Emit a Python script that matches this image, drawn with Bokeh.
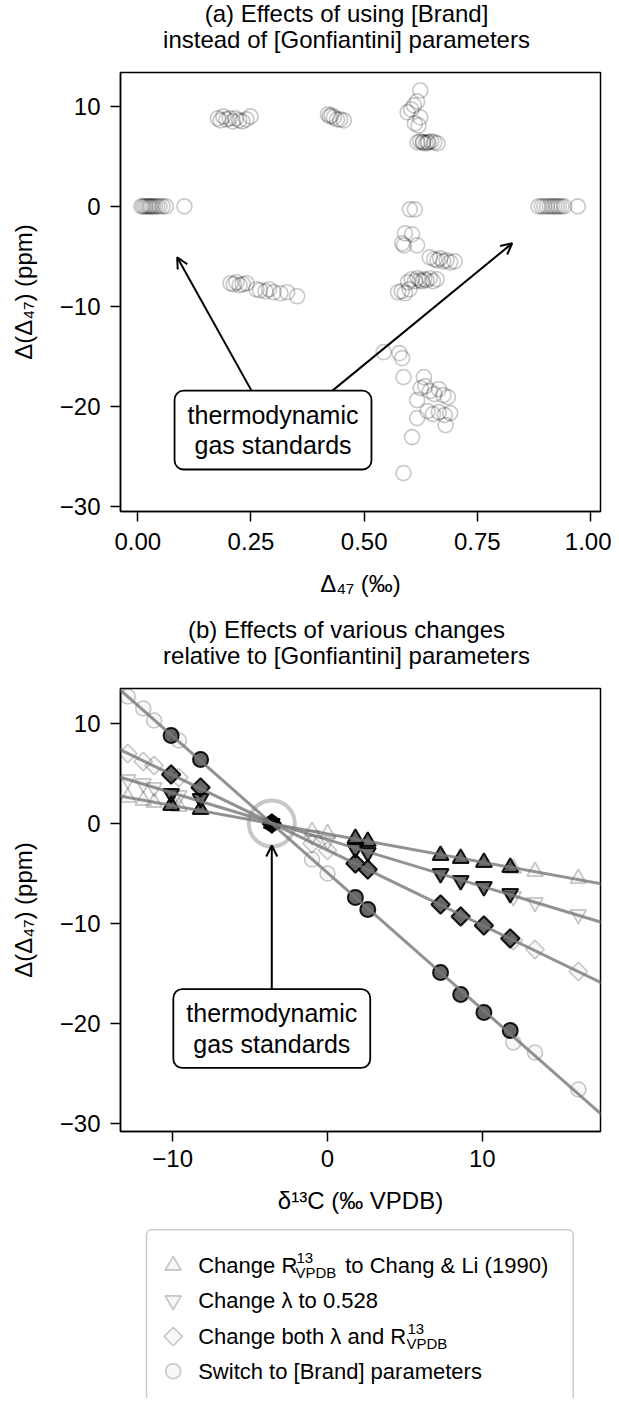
import numpy as np
from bokeh.plotting import figure
from bokeh.models import Range1d, FixedTicker, Label, Arrow, OpenHead, Slope
from bokeh.layouts import column
from bokeh.embed import file_html
from bokeh.resources import INLINE
from bokeh.core.properties import value

FONT = "Liberation Sans"

# ---------------- data: panel (a) ----------------
gas_lo_D47 = [0.008, 0.012, 0.016, 0.020, 0.024, 0.027, 0.030, 0.034, 0.038, 0.043, 0.048, 0.055, 0.062, 0.103]
gas_lo_dD47 = [0.0, 0.0, 0.0, 0.0, 0.0, 0.0, 0.0, 0.0, 0.0, 0.0, 0.0, 0.0, 0.0, 0.0]
gas_hi_D47 = [0.885, 0.892, 0.898, 0.904, 0.910, 0.915, 0.920, 0.925, 0.930, 0.936, 0.942, 0.972]
gas_hi_dD47 = [0.0, 0.0, 0.0, 0.0, 0.0, 0.0, 0.0, 0.0, 0.0, 0.0, 0.0, 0.0]
eth2_D47 = [0.177, 0.183, 0.189, 0.196, 0.203, 0.210, 0.216, 0.224, 0.231, 0.240, 0.249]
eth2_dD47 = [8.8, 8.6, 9.0, 8.7, 8.8, 8.5, 8.8, 8.6, 8.5, 8.7, 9.0]
eth4_D47 = [0.420, 0.424, 0.428, 0.433, 0.440, 0.447, 0.455]
eth4_dD47 = [9.2, 9.0, 9.1, 8.9, 8.7, 8.7, 8.6]
sA_D47 = [0.624, 0.617, 0.610, 0.596, 0.604, 0.624, 0.620, 0.612,
          0.618, 0.624, 0.630, 0.636, 0.642, 0.648, 0.655, 0.662, 0.630, 0.640]
sA_dD47 = [11.6, 10.5, 10.1, 9.4, 9.7, 8.9, 8.1, 8.3,
           6.4, 6.5, 6.4, 6.3, 6.4, 6.5, 6.4, 6.3, 6.4, 6.4]
eth1_D47 = [0.205, 0.212, 0.218, 0.225, 0.232, 0.240, 0.262, 0.270, 0.282, 0.290, 0.300, 0.315, 0.330, 0.352]
eth1_dD47 = [-7.7, -7.8, -7.6, -7.9, -7.8, -7.7, -8.3, -8.4, -8.5, -8.3, -8.6, -8.7, -8.6, -9.0]
eth3_D47 = [0.597, 0.605, 0.612, 0.618, 0.623, 0.628, 0.633, 0.638, 0.645, 0.652, 0.660, 0.575, 0.583, 0.590, 0.600]
eth3_dD47 = [-7.6, -7.3, -7.5, -7.2, -7.4, -7.5, -7.3, -7.4, -7.2, -7.5, -7.3, -8.6, -8.5, -8.7, -8.3]
sB_D47 = [0.601, 0.612, 0.590, 0.606, 0.584, 0.588, 0.617,
          0.645, 0.655, 0.662, 0.668, 0.675, 0.682, 0.690, 0.700]
sB_dD47 = [-0.3, -0.3, -2.7, -2.8, -3.7, -3.9, -3.9,
           -5.1, -5.3, -5.4, -5.2, -5.5, -5.4, -5.6, -5.5]
sC_D47 = [0.543, 0.578, 0.584, 0.587, 0.632, 0.625, 0.635, 0.645, 0.655, 0.665, 0.675, 0.685,
          0.617, 0.640, 0.652, 0.665, 0.678, 0.690, 0.680, 0.617, 0.606, 0.587]
sC_dD47 = [-14.6, -14.7, -15.2, -17.1, -17.1, -18.2, -18.0, -18.5, -18.8, -18.3, -18.9, -19.1,
           -19.4, -20.5, -20.8, -20.6, -20.9, -20.7, -21.9, -21.2, -23.1, -26.7]

# ---------------- data: panel (b) ----------------
d13C_dark = [-10.1, -8.2, -3.6, 1.8, 2.6, 7.3, 8.6, 10.1, 11.8]
d13C_light = [-12.9, -11.9, -11.2, -9.6, -1.0, 0.0, 12.0, 13.4, 16.2]
gas_d13C = [-3.6]
gas_dD47 = [0.0]

brand_dark = [8.8, 6.4, 0.0, -7.4, -8.6, -14.9, -17.1, -18.9, -20.7]
brand_light = [12.7, 11.5, 10.3, 8.3, -3.6, -5.0, -21.9, -22.9, -26.6]
r13_dark = [1.8, 1.4, 0.0, -1.5, -1.8, -3.2, -3.5, -3.9, -4.4]
r13_light = [2.6, 2.3, 2.1, 1.7, -0.8, -1.0, -4.5, -4.8, -5.5]
lam_dark = [3.0, 2.5, 0.0, -2.5, -2.9, -5.0, -5.7, -6.3, -7.0]
lam_light = [4.4, 4.0, 3.6, 2.8, -1.2, -1.7, -7.3, -7.9, -9.1]
both_dark = [4.9, 3.6, 0.0, -4.0, -4.6, -8.1, -9.3, -10.2, -11.5]
both_light = [7.0, 6.2, 5.8, 4.6, -2.0, -2.7, -11.7, -12.6, -14.8]

title_a = ["(a) Effects of using [Brand]", "instead of [Gonfiantini] parameters"]
title_b = ["(b) Effects of various changes", "relative to [Gonfiantini] parameters"]
legend_labels = ["Change R", "Change \u03bb to 0.528", "Change both \u03bb and R", "Switch to [Brand] parameters"]

xticks_a = [0, 0.25, 0.5, 0.75, 1.0]
xlabels_a = ["0.00", "0.25", "0.50", "0.75", "1.00"]
yticks = [-30, -20, -10, 0, 10]
ylabels = ["\u221230", "\u221220", "\u221210", "0", "10"]
xticks_b = [-10, 0, 10]
xlabels_b = ["\u221210", "0", "10"]


def blank_fig(height, y_top, y_bot):
    f = figure(width=611, height=height, output_backend="svg", toolbar_location=None, title=None,
               x_range=Range1d(120, 600), y_range=Range1d(y_bot, y_top),
               min_border_left=120, min_border_right=11, min_border_top=0, min_border_bottom=0)
    f.axis.visible = False
    f.xgrid.visible = False
    f.ygrid.visible = False
    f.outline_line_color = None
    return f


def title_fig(lines, y_top, y_bot, ys):
    f = blank_fig(y_bot - y_top, y_top, y_bot)
    f.text([346, 346], ys, text=lines, text_align="center", text_baseline="middle",
           text_font=value(FONT), text_font_size="24px", text_color="black")
    return f


def style(p):
    p.outline_line_color = "black"
    p.outline_line_width = 1.5
    p.outline_line_alpha = 1
    p.xgrid.visible = False
    p.ygrid.visible = False
    for ax in (p.xaxis[0], p.yaxis[0]):
        ax.axis_line_width = 1.5
        ax.major_tick_out = 10
        ax.major_tick_in = 0
        ax.major_tick_line_width = 1.5
        ax.minor_tick_out = 0
        ax.minor_tick_in = 0
        ax.major_label_standoff = 8
        ax.major_label_text_font = FONT
        ax.major_label_text_font_size = "24px"
        ax.major_label_text_color = "black"
        ax.axis_label_text_font = FONT
        ax.axis_label_text_font_size = "24px"
        ax.axis_label_text_font_style = "normal"
        ax.axis_label_text_color = "black"
    p.yaxis[0].major_label_standoff = 10
    p.yaxis[0].ticker = FixedTicker(ticks=yticks)
    p.yaxis[0].major_label_overrides = dict(zip(yticks, ylabels))
    p.yaxis[0].axis_label = "\u0394(\u0394\u2084\u2087) (ppm)"
    p.yaxis[0].axis_label_standoff = 20


def box_label(p, x, y):
    p.add_layout(Label(x=x, y=y, text="thermodynamic\ngas standards", text_align="center",
                       text_baseline="middle", text_font=FONT, text_font_size="25px",
                       text_line_height=1.1,
                       text_color="black", border_line_color="black", border_line_width=1.8,
                       background_fill_color="white",
                       padding=dict(left=13, right=13, top=10, bottom=10), border_radius=9))


# ---------------- panel (a) ----------------
ta = title_fig(title_a, 0, 70, [12.7, 39])
p1 = figure(width=611, height=541, output_backend="svg", toolbar_location=None, title=None,
            x_range=Range1d(-0.0382, 1.0221), y_range=Range1d(-30.55, 13.4),
            min_border_left=120, min_border_right=11, min_border_top=2, min_border_bottom=100)
style(p1)
p1.xaxis[0].ticker = FixedTicker(ticks=xticks_a)
p1.xaxis[0].major_label_overrides = dict(zip(xticks_a, xlabels_a))
p1.xaxis[0].axis_label = "\u0394\u2084\u2087 (\u2030)"
p1.xaxis[0].major_label_standoff = 11
p1.xaxis[0].axis_label_standoff = 17

allx = gas_lo_D47 + gas_hi_D47 + eth2_D47 + eth4_D47 + sA_D47 + eth1_D47 + eth3_D47 + sB_D47 + sC_D47
ally = gas_lo_dD47 + gas_hi_dD47 + eth2_dD47 + eth4_dD47 + sA_dD47 + eth1_dD47 + eth3_dD47 + sB_dD47 + sC_dD47
p1.scatter(allx, ally, marker="circle", size=15, fill_color=None, line_color="black",
           line_alpha=0.21, line_width=1.7)

p1.add_layout(Arrow(end=OpenHead(size=11, line_width=2), x_start=0.253, y_start=-18.6,
                    x_end=0.087, y_end=-5.1, line_width=2))
p1.add_layout(Arrow(end=OpenHead(size=11, line_width=2), x_start=0.426, y_start=-18.6,
                    x_end=0.827, y_end=-3.7, line_width=2))
box_label(p1, 0.2987, -22.4)

# ---------------- panel (b) ----------------
tb = title_fig(title_b, 611, 686, [628.7, 655])
p2 = figure(width=611, height=534, output_backend="svg", toolbar_location=None, title=None,
            x_range=Range1d(-13.37, 17.63), y_range=Range1d(-30.8, 13.5),
            min_border_left=120, min_border_right=11, min_border_top=2, min_border_bottom=89)
style(p2)
p2.xaxis[0].ticker = FixedTicker(ticks=xticks_b)
p2.xaxis[0].major_label_overrides = dict(zip(xticks_b, xlabels_b))
p2.xaxis[0].axis_label = "\u03b4\u00b9\u00b3C (\u2030 VPDB)"
p2.xaxis[0].axis_label_standoff = 17

series = [
    ("triangle", r13_dark, r13_light, 0),
    ("inverted_triangle", lam_dark, lam_light, 0),
    ("square", both_dark, both_light, np.pi / 4),
    ("circle", brand_dark, brand_light, 0),
]
sizes = {"triangle": 16, "inverted_triangle": 16, "square": 13, "circle": 15}

for marker, yd, yl, ang in series:
    xs = np.array(d13C_dark + d13C_light)
    ys = np.array(yd + yl)
    g, b0 = np.polyfit(xs, ys, 1)
    p2.add_layout(Slope(gradient=g, y_intercept=b0, line_color="#777777", line_width=3, line_alpha=0.8))

p2.scatter(gas_d13C, gas_dD47, marker="circle", size=46, fill_color=None,
           line_color="black", line_alpha=0.22, line_width=4)

for marker, yd, yl, ang in series:
    p2.scatter(d13C_light, yl, marker=marker, angle=ang, size=sizes[marker], fill_color="black",
               fill_alpha=0.03, line_color="black", line_alpha=0.22, line_width=1.6)
for marker, yd, yl, ang in series:
    p2.scatter(d13C_dark, yd, marker=marker, angle=ang, size=sizes[marker], fill_color="black",
               fill_alpha=0.6, line_color="black", line_alpha=0.9, line_width=2)

p2.add_layout(Arrow(end=OpenHead(size=11, line_width=2), x_start=-3.6, y_start=-16.7,
                    x_end=-3.6, y_end=-2.2, line_width=2))
box_label(p2, -3.6, -20.5)

# ---------------- legend (page-pixel coordinates) ----------------
pl = blank_fig(178, 1220, 1398)
pl.quad(left=[146], right=[572.7], top=[1229.3], bottom=[1420], fill_color="white",
        line_color="#cccccc", line_width=1.5, border_radius=5)
rows_y = [1265, 1300, 1336, 1370.7]
for (marker, yd, yl, ang), ry in zip(series, rows_y):
    pl.scatter([172.7], [ry], marker=marker, angle=ang, size=sizes[marker], fill_color="black",
               fill_alpha=0.03, line_color="black", line_alpha=0.22, line_width=1.6)
pl.text([197.7, 197.7, 197.7, 197.7], rows_y, text=legend_labels, text_baseline="middle",
        text_font=value(FONT), text_font_size="22px", text_color="black")
pl.text([296, 407], [rows_y[0] - 7.5, rows_y[2] - 7.5], text=["13", "13"], text_baseline="middle",
        text_font=value(FONT), text_font_size="15px", text_color="black")
pl.text([295, 406], [rows_y[0] + 6.5, rows_y[2] + 6.5], text=["VPDB", "VPDB"], text_baseline="middle",
        text_font=value(FONT), text_font_size="15px", text_color="black")
pl.text([344.7], [rows_y[0]], text=["to Chang & Li (1990)"], text_baseline="middle",
        text_font=value(FONT), text_font_size="22px", text_color="black")

layout = column(ta, p1, tb, p2, pl, spacing=0)
open("out.html", "w").write(file_html(layout, INLINE))
